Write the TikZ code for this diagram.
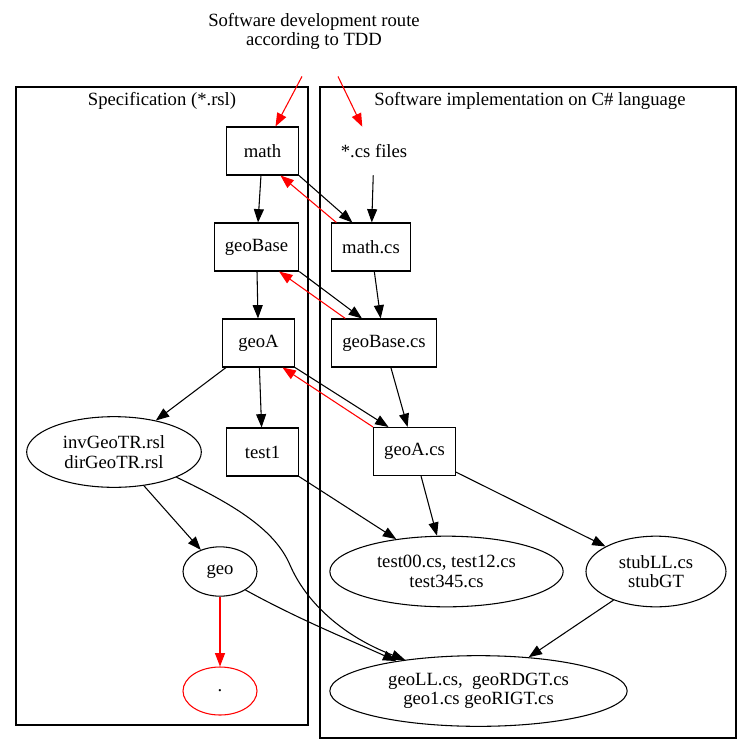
\documentclass[tikz,border=0pt]{standalone}
\usepackage{fontspec}
\setmainfont{Liberation Serif}
\usetikzlibrary{arrows.meta, shapes.geometric, positioning}

\begin{document}
\begin{tikzpicture}[
    x=0.75pt, y=-0.75pt,
    every node/.style={font=\fontsize{14}{14.5}\selectfont},
    box/.style={
        rectangle, draw=black, line width=0.8pt,
        minimum width=54pt, minimum height=36pt,
        inner xsep=8pt
    },
    oval/.style={ellipse, draw=black, line width=0.8pt, inner sep=0pt, align=center},
    edge/.style={-{Triangle[length=10pt, width=7.5pt]}, line width=0.8pt},
    back/.style={edge, red},
    cluster/.style={draw=black, line width=0.8pt},
]
\useasboundingbox (0,0) rectangle (752,754);

% Clusters
\draw[cluster] (16,87) rectangle (308,725);
\draw[cluster] (320,87) rectangle (736,738);
\node (speclabel) at (162,101) {Specification (*.rsl)};
\node (implabel)  at (530,101) {Software implementation on C\# language};

% Title
\node[align=center, minimum height=67pt] (route) at (314,31.5)
    {Software development route\\according to TDD};

% Specification
\node[box] (math)    at (262.5,151) {math};
\node[box] (geoBase) at (256.5,247) {geoBase};
\node[box] (geoA)    at (258.5,343) {geoA};
\node[box] (test1)   at (262.5,452) {test1};
\node[oval, minimum width=131pt, minimum height=53pt] (invGeo) at (114,452)
    {invGeoTR.rsl\\dirGeoTR.rsl};
\node[oval, minimum width=55.5pt, minimum height=37pt] (geo) at (220,571.5) {geo};
\node[oval, draw=red, minimum width=55.5pt, minimum height=36pt] (dot) at (220,691) {.};

% Implementation
\node[minimum height=36pt] (csFiles) at (374,151) {*.cs files};
\node[box] (mathCs)    at (371,247)   {math.cs};
\node[box] (geoBaseCs) at (384,343)   {geoBase.cs};
\node[box] (geoACs)    at (414.5,451.5) {geoA.cs};
\node[oval, minimum width=175pt, minimum height=53pt] (tests) at (446.5,571.5)
    {test00.cs, test12.cs\\test345.cs};
\node[oval, minimum width=105pt, minimum height=53pt] (stubs) at (656,571.5)
    {stubLL.cs\\stubGT};
\node[oval, minimum width=223pt, minimum height=53pt] (geoCs) at (478.5,691)
    {geoLL.cs,~~geoRDGT.cs\\geo1.cs geoRIGT.cs};

% Route
\draw[back] ([xshift=-9pt]route.south) -- (math);
\draw[back] ([xshift=18pt]route.south) -- (csFiles);

% Edges
\draw[edge] (math) -- (geoBase);
\draw[edge] (math.south east) -- ([xshift=-14pt]mathCs.north);
\draw[back] ([xshift=-26pt]mathCs.north) -- ([xshift=13.5pt]math.south);
\draw[edge] (csFiles) -- (mathCs);
\draw[edge] (geoBase) -- (geoA);
\draw[edge] (geoBase.south east) -- ([xshift=-16.5pt]geoBaseCs.north);
\draw[back] ([xshift=-29pt]geoBaseCs.north) -- ([xshift=17pt]geoBase.south);
\draw[edge] (mathCs) -- (geoBaseCs);
\draw[edge] (geoA.south east) -- ([xshift=-19.5pt]geoACs.north);
\draw[back] (geoACs.north west) -- ([xshift=18pt]geoA.south);
\draw[edge] (geoBaseCs) -- (geoACs);
\draw[edge] (geoA) -- (invGeo);
\draw[edge] (geoA) -- (test1);
\draw[edge] (invGeo) -- (geo);
\draw[edge] (invGeo.-22) .. controls (235,505) and (275,530) .. (290,565)
    .. controls (305,600) and (340,635) .. (geoCs.157);
\draw[edge] (test1.south east) -- (tests);
\draw[edge] (geoACs) -- (tests);
\draw[edge] (geoACs) -- (stubs);
\draw[edge] (geo.-36) .. controls (300,620) and (350,640) .. (geoCs.160);
\draw[edge] (stubs) -- (geoCs);
\draw[back] (geo) -- (dot);

\end{tikzpicture}
\end{document}
